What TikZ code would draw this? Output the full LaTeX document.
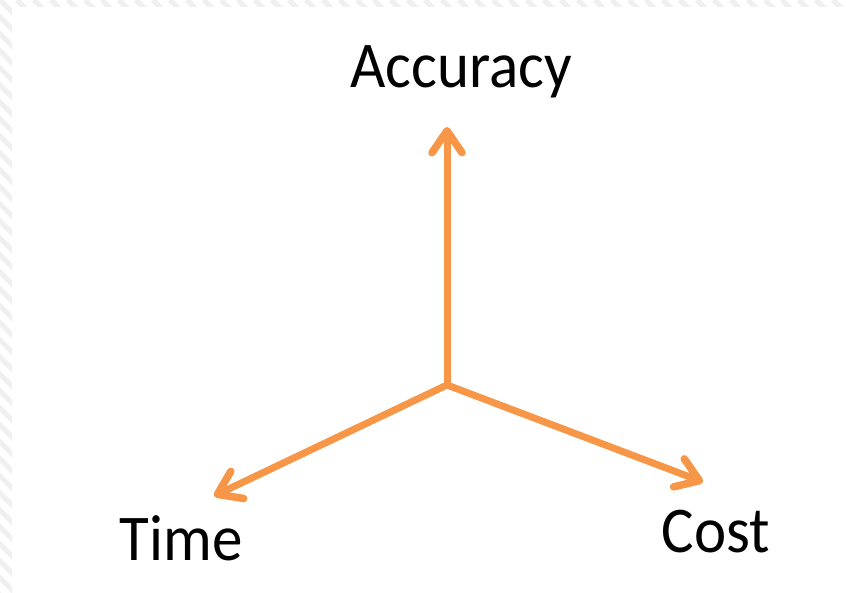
\documentclass[tikz,border=0pt]{standalone}
\usepackage{fontspec}
\setmainfont{Carlito}
\usetikzlibrary{arrows.meta}
\definecolor{axorange}{RGB}{247,150,70}
\definecolor{hatch}{RGB}{240,240,240}
\tikzset{
  axis/.style={draw=axorange, line width=7pt, line cap=round, line join=round,
    -{Straight Barb[length=22pt, width=30pt, line width=7.5pt, round]}},
  lbl/.style={font=\fontsize{61}{70}\selectfont, inner sep=0pt, anchor=base, yscale=1.07, transform shape}
}
\begin{document}
\begin{tikzpicture}[x=1pt,y=1pt]
\useasboundingbox (0,0) rectangle (846,593);
\fill[white] (0,0) rectangle (846,593);
\begin{scope}
  \clip (0,0) rectangle (12,593) (12,586) rectangle (846,593);
  \foreach \i in {-40,...,60} {
    \draw[hatch, line width=5pt] (\i*17,593) -- ++(600,-600);
  }
\end{scope}
\node[lbl] (acc) at (461,505) {Accuracy};
\node[lbl] (time) at (181,32) {Time};
\node[lbl] (cost) at (716,40) {Cost};
\coordinate (O) at (447,208);
\coordinate (up) at (447,466);
\coordinate (lt) at (214,97);
\coordinate (rt) at (703,111);
\draw[axis] (O) -- (up);
\draw[axis] (O) -- (lt);
\draw[axis] (O) -- (rt);
\end{tikzpicture}
\end{document}
